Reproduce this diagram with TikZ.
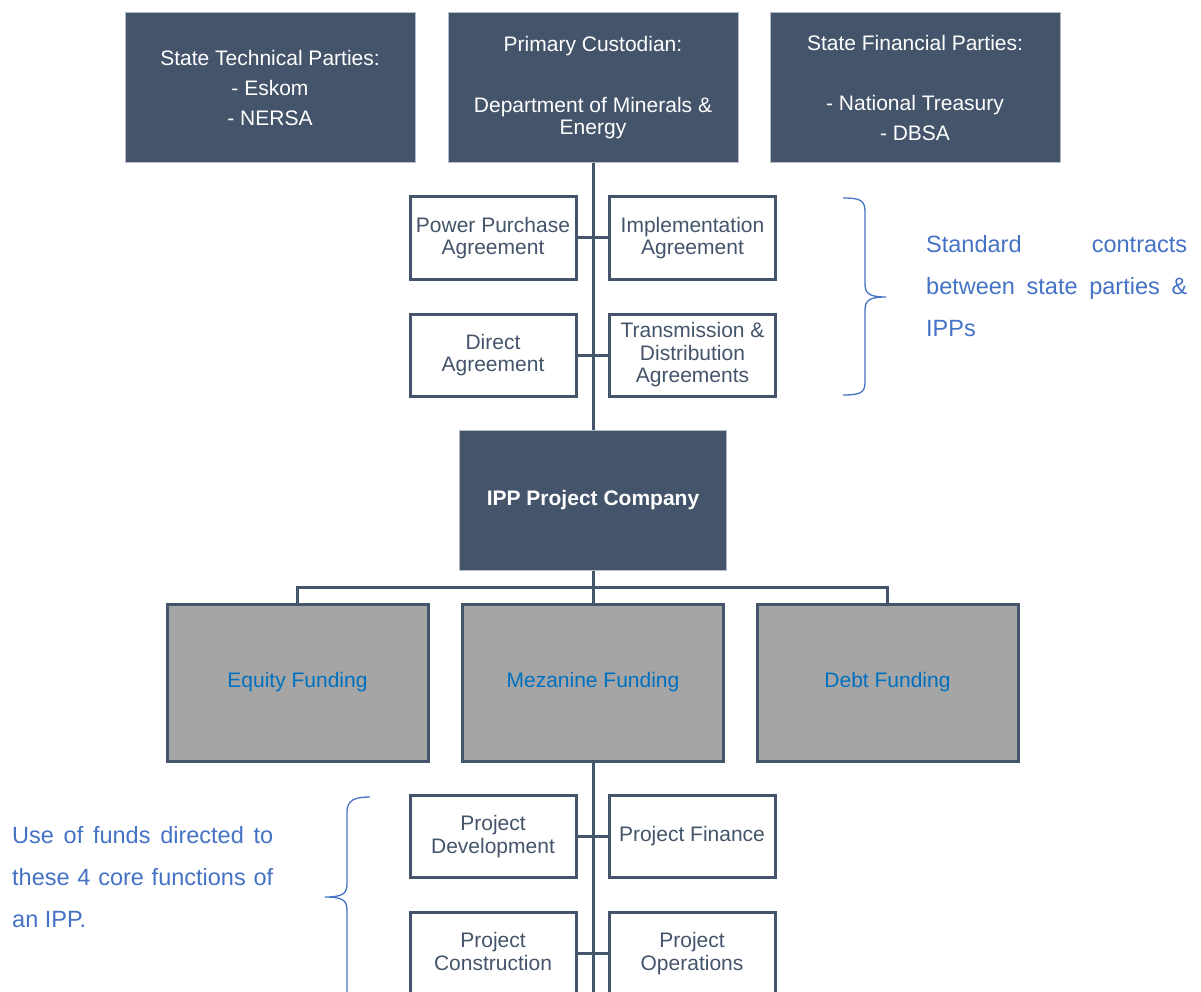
\documentclass[tikz,border=0pt]{standalone}
\usepackage{fontspec}
\setmainfont{Liberation Sans}
\usetikzlibrary{backgrounds}
\definecolor{slate}{HTML}{44546A}
\definecolor{slateedge}{HTML}{B4BCC8}
\definecolor{fundgrey}{HTML}{A5A5A5}
\definecolor{fundblue}{HTML}{0070C0}
\definecolor{notblue}{HTML}{4472C4}
\tikzset{
  party/.style={rectangle, fill=slate, draw=slateedge, line width=1pt, text=white,
    minimum width=290pt, minimum height=150pt, align=center, inner sep=2pt,
    font=\fontsize{21}{30}\selectfont},
  ippbox/.style={rectangle, fill=slate, draw=slateedge, line width=1pt, text=white,
    minimum width=267pt, minimum height=140pt, align=center,
    font=\fontsize{21}{22}\selectfont\bfseries},
  contract/.style={rectangle, fill=white, draw=slate, line width=3pt, text=slate,
    minimum width=166pt, minimum height=82pt, align=center, inner sep=2pt,
    font=\fontsize{21}{22.5}\selectfont,
    execute at end node={\rule[-4.5pt]{0pt}{4.5pt}}},
  funding/.style={rectangle, fill=fundgrey, draw=slate, line width=3pt, text=fundblue,
    minimum width=261pt, minimum height=157pt, align=center,
    font=\fontsize{21}{22}\selectfont},
  link/.style={draw=slate, line width=3pt},
  brace/.style={draw=notblue, line width=1.3pt},
  note/.style={text=notblue, align=left, inner sep=0pt,
    font=\fontsize{23.5}{42}\selectfont},
}
\begin{document}
\begin{tikzpicture}[x=1pt, y=-1pt]
\useasboundingbox (0,0) rectangle (1201,992);
\clip (0,0) rectangle (1201,992);

% state parties
\node[party] (tech) at (270,88) {State Technical Parties:\\- Eskom\\- NERSA};
\node[party, font=\fontsize{21}{22}\selectfont] (cust) at (593,88)
  {Primary Custodian:\\[39pt]Department of Minerals \&\\Energy};
\node[party] (fin) at (915,88) {State Financial Parties:\\[30pt]- National Treasury\\- DBSA};

% standard contracts
\node[contract] (ppa) at (493,238) {Power Purchase\\Agreement};
\node[contract] (impl) at (692.5,238) {Implementation\\Agreement};
\node[contract] (direct) at (493,355) {Direct\\Agreement};
\node[contract] (tnd) at (692.5,355) {Transmission \&\\Distribution\\Agreements};

% project company
\node[ippbox] (ipp) at (593,500) {IPP Project Company};

% funding sources
\node[funding] (equity) at (297.5,682.5) {Equity Funding};
\node[funding] (mezz) at (593,682.5) {Mezanine Funding};
\node[funding] (debt) at (887.5,682.5) {Debt Funding};

% core functions
\node[contract] (pdev) at (493,836.5) {Project\\Development};
\node[contract] (pfin) at (692,836.5) {Project Finance};
\node[contract] (pcon) at (493,953.5) {Project\\Construction};
\node[contract] (pops) at (692,953.5) {Project\\Operations};

% connectors, kept behind the boxes
\coordinate (bus) at (593,587);
\coordinate (spineend) at (593,1000);
\begin{pgfonlayer}{background}
\draw[link] (cust.south) -- (ipp.north);
\draw[link] (ppa.east) -- (impl.west);
\draw[link] (direct.east) -- (tnd.west);
\draw[link] (ipp.south) -- (mezz.north);
\draw[link] (equity.north) |- (bus) -| (debt.north);
\draw[link] (mezz.south) -- (spineend);
\draw[link] (pdev.east) -- (pfin.west);
\draw[link] (pcon.east) -- (pops.west);
\end{pgfonlayer}

% braces and notes
\coordinate (rbtop) at (843,198);
\coordinate (rbtip) at (886,297);
\coordinate (rbbot) at (843,395);
\draw[brace] (rbtop) .. controls (860,198) and (865,200) .. (865,212)
  -- (865,284) .. controls (865,294) and (870,297) .. (rbtip)
  .. controls (870,297) and (865,300) .. (865,310)
  -- (865,382) .. controls (865,393) and (860,395) .. (rbbot);
\node[note, anchor=west] (contracts) at (926,286)
  {\makebox[261pt][s]{Standard contracts}\\
   \makebox[261pt][s]{between state parties \&}\\IPPs};

\coordinate (lbtop) at (370,797);
\coordinate (lbtip) at (325,897);
\coordinate (lbbot) at (347,1000);
\draw[brace] (lbtop) .. controls (355,797) and (347,800) .. (347,812)
  -- (347,884) .. controls (347,894) and (342,897) .. (lbtip)
  .. controls (342,897) and (347,900) .. (347,910)
  -- (lbbot);
\node[note, anchor=west] (funds) at (12,877)
  {\makebox[261pt][s]{Use of funds directed to}\\
   \makebox[261pt][s]{these 4 core functions of}\\an IPP.};
\end{tikzpicture}
\end{document}
